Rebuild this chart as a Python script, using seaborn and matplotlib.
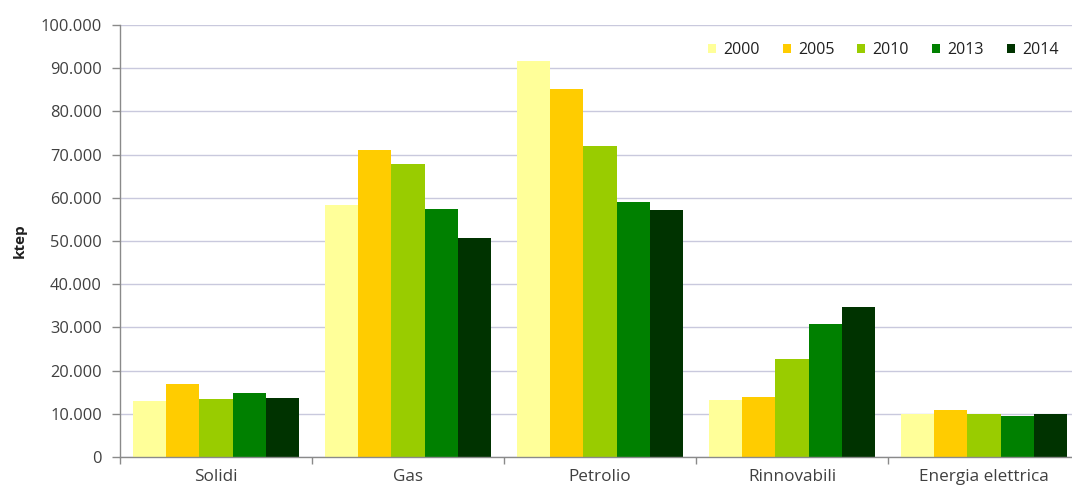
import matplotlib
matplotlib.use("Agg")
import matplotlib.pyplot as plt
import matplotlib.ticker as mticker
from matplotlib.patches import Patch
import seaborn as sns
import pandas as pd

categories = ["Solidi", "Gas", "Petrolio", "Rinnovabili", "Energia elettrica"]
years = ["2000", "2005", "2010", "2013", "2014"]
values = {
    "2000": [13000, 58300, 91700, 13200, 9900],
    "2005": [16900, 71100, 85200, 13800, 10900],
    "2010": [13400, 67800, 72000, 22600, 9900],
    "2013": [14700, 57400, 59000, 30900, 9600],
    "2014": [13700, 50600, 57100, 34800, 9900],
}
colors = ["#FFFF99", "#FFCC00", "#99CC00", "#008000", "#003300"]
y_ticks = [0, 10000, 20000, 30000, 40000, 50000, 60000, 70000, 80000, 90000, 100000]

rows = []
for yr in years:
    for cat, v in zip(categories, values[yr]):
        rows.append({"Fonte": cat, "Anno": yr, "ktep": v})
df = pd.DataFrame(rows)

sns.set_theme(style="white")
plt.rcParams["font.family"] = ["Open Sans", "DejaVu Sans"]

fig = plt.figure(figsize=(10.72, 4.87), dpi=100)
ax = fig.add_axes([120 / 1072, 1 - 457 / 487, 960 / 1072, (457 - 25) / 487])

sns.barplot(data=df, x="Fonte", y="ktep", hue="Anno", order=categories,
            hue_order=years, palette=colors, width=0.865, saturation=1,
            linewidth=0, ax=ax, legend=False)

ax.set_ylim(0, 100000)
ax.set_xlim(-0.5, len(categories) - 0.5)
ax.set_yticks(y_ticks)
ax.yaxis.set_major_formatter(mticker.FuncFormatter(
    lambda v, p: f"{int(v):,}".replace(",", ".")))
ax.grid(axis="y", color="#c9c9dd", linewidth=1)
ax.set_axisbelow(True)

for s in ["top", "right"]:
    ax.spines[s].set_visible(False)
for s in ["left", "bottom"]:
    ax.spines[s].set_color("#8a8a8a")
    ax.spines[s].set_linewidth(1)

ax.tick_params(axis="y", which="major", left=True, length=6, width=1,
               color="#8a8a8a", labelsize=11.8, labelcolor="#404040", pad=7)
ax.tick_params(axis="x", which="major", bottom=False, labelsize=12.3,
               labelcolor="#404040", pad=2.5)
ax.set_xticks([i + 0.5 for i in range(-1, len(categories))], minor=True)
ax.tick_params(axis="x", which="minor", bottom=True, length=5, width=1,
               color="#8a8a8a")

ax.set_xlabel("")
ax.set_ylabel("ktep", fontsize=11, fontweight="bold", color="#202020",
              labelpad=10)

handles = [Patch(facecolor=c, edgecolor="none", label=y)
           for c, y in zip(colors, years)]
fig.legend(handles=handles, loc="center left", ncol=5, frameon=False,
           bbox_to_anchor=(695 / 1072, 1 - 50 / 487), fontsize=11.5,
           handlelength=0.5, handleheight=0.5, handletextpad=0.45,
           columnspacing=1.45, labelcolor="#202020", borderpad=0.3)

fig.savefig("out.png", dpi=100)
